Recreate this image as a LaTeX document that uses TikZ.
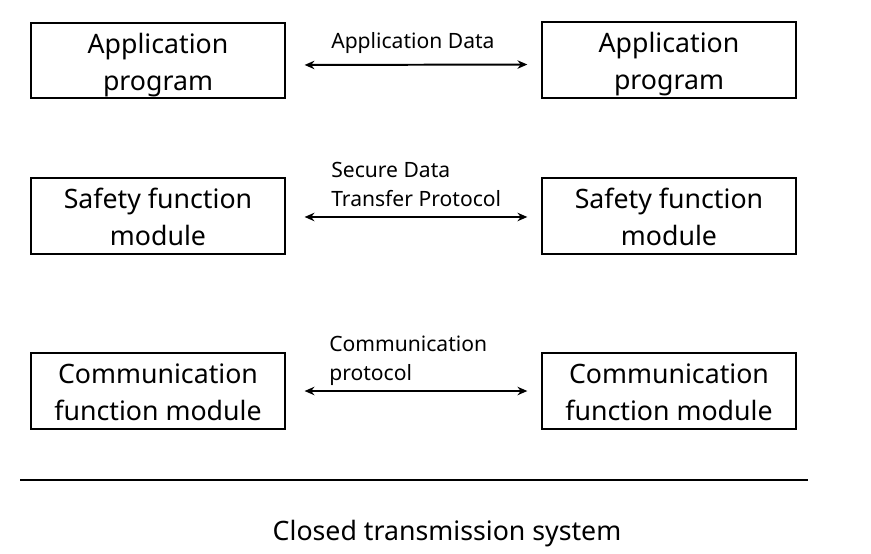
\documentclass[tikz,border=0pt]{standalone}
\usepackage{fontspec}
\setmainfont{Noto Sans}
\usepackage{tikz}
\usetikzlibrary{arrows.meta}

\newcommand{\topstrut}{\rule{0pt}{21pt}}
\newcommand{\botstrut}{\rule[-5pt]{0pt}{5pt}}

\tikzset{
  module/.style={draw, line width=1.4pt, minimum width=254*0.709pt, minimum height=76*0.709pt,
    align=center, inner sep=0pt, font=\fontsize{19}{26}\selectfont},
  link/.style={<->, line width=1.4pt, shorten <=13.5pt, shorten >=10pt},
  tag/.style={anchor=base west, align=left, inner sep=0pt, font=\fontsize{15}{20}\selectfont}
}

\begin{document}
\begin{tikzpicture}[x=0.025cm, y=-0.025cm, >={Stealth[length=7pt,width=6pt]}]
    \useasboundingbox (0,0) rectangle (871,554);

    \node[module] (app1) at (158,60.5) {\topstrut Application\\program\botstrut};
    \node[module] (app2) at (669,60) {\topstrut Application\\program\botstrut};
    \node[module] (safe1) at (158,216) {\topstrut Safety function\\module\botstrut};
    \node[module] (safe2) at (669,216) {\topstrut Safety function\\module\botstrut};
    \node[module] (com1) at (158,391) {\topstrut Communication\\function module\botstrut};
    \node[module] (com2) at (669,391) {\topstrut Communication\\function module\botstrut};

    \draw[link] ([yshift=-3.2pt]app1.east) -- ([yshift=-3.2pt]app2.west);
    \draw[link] ([yshift=-0.7pt]safe1.east) -- ([yshift=-0.7pt]safe2.west);
    \draw[link] (com1.east) -- (com2.west);

    \node[tag] (lapp) at (331,48) {Application Data};
    \node[tag] (lsafe) at (331,206) {Secure Data\\Transfer Protocol};
    \node[tag] (lcom) at (329,380) {Communication\\protocol};

    % ground line and caption
    \coordinate (gl) at (20,480);
    \coordinate (gr) at (808,480);
    \draw[line width=0.8pt] (gl) -- (gr);
    \node[anchor=base, inner sep=0pt, font=\fontsize{19}{24}\selectfont] (cap) at (447,540) {Closed transmission system};
\end{tikzpicture}
\end{document}
